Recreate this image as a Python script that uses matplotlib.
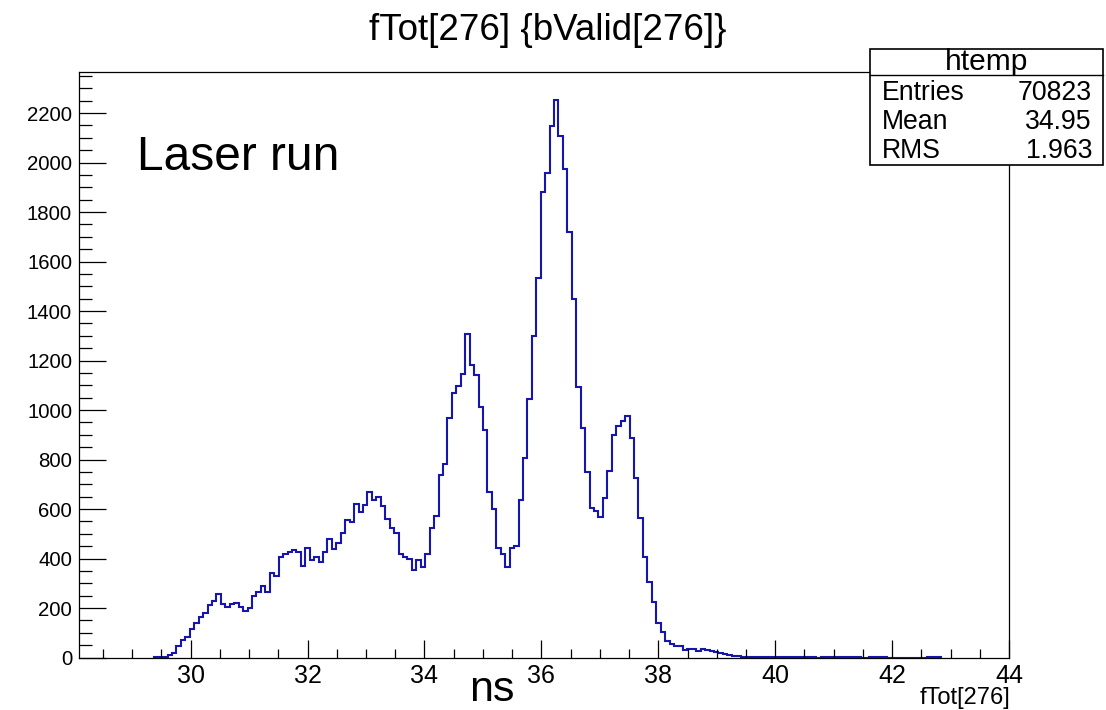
import numpy as np
import matplotlib
matplotlib.use("Agg")
import matplotlib.pyplot as plt
from matplotlib.ticker import MultipleLocator
from matplotlib.patches import Rectangle
from matplotlib.lines import Line2D

# ---------------- data ----------------
title = "fTot[276] {bValid[276]}"
xlabel = "fTot[276]"
annotation = "Laser run"
unit_label = "ns"
stat_name = "htemp"
stat_labels = ["Entries", "Mean", "RMS"]
stat_values = ["70823", "34.95", "1.963"]

bin_start = 29.377
bin_width = 0.076
counts = [
    2, 3, 4, 9, 17, 46, 71, 84, 114, 138,
    163, 181, 211, 230, 256, 216, 205, 215, 219, 205,
    188, 199, 248, 265, 289, 266, 340, 330, 405, 418,
    428, 435, 428, 371, 441, 394, 405, 387, 425, 479,
    437, 462, 505, 556, 547, 619, 587, 617, 668, 637,
    650, 613, 559, 522, 502, 417, 408, 398, 354, 394,
    367, 417, 525, 572, 738, 781, 967, 1068, 1099, 1145,
    1307, 1183, 1140, 1012, 920, 668, 599, 441, 417, 367,
    442, 450, 637, 806, 1044, 1300, 1532, 1881, 1958, 2146,
    2252, 2109, 1975, 1719, 1448, 1095, 929, 750, 606, 592,
    567, 644, 755, 900, 936, 956, 977, 886, 725, 563,
    405, 307, 224, 141, 104, 67, 55, 48, 46, 30,
    33, 33, 28, 33, 30, 27, 22, 17, 14, 9,
    8, 7, 3, 3, 2, 2, 2, 2, 1, 2,
    1, 1, 1, 1, 1, 1, 1, 1, 1, 0,
    1, 1, 1, 1, 1, 1, 1, 1, 1, 0,
    0, 1, 1, 1, 1, 0, 0, 0, 0, 0,
    0, 0, 0, 0, 1, 1, 1,
]

x_range = (28.09, 44.0)
y_range = (0, 2366)
x_major, x_minor = 2, 0.5
y_major, y_minor = 200, 50

# ---------------- figure ----------------
W, H = 1106, 710
plt.rcParams["font.family"] = ["Liberation Sans", "DejaVu Sans"]

fig = plt.figure(figsize=(W / 100, H / 100), dpi=100)


def fx(px):
    return px / W


def fy(py):
    return 1 - py / H


left, right, top, bottom = 79, 1009, 72, 657.5
ax = fig.add_axes([fx(left), fy(bottom), fx(right - left), (bottom - top) / H])

edges = bin_start + bin_width * np.arange(len(counts) + 1)
ax.stairs(counts, edges, color="#1616ae", linewidth=1.5, baseline=0)

ax.set_xlim(*x_range)
ax.set_ylim(*y_range)
ax.xaxis.set_major_locator(MultipleLocator(x_major))
ax.xaxis.set_minor_locator(MultipleLocator(x_minor))
ax.yaxis.set_major_locator(MultipleLocator(y_major))
ax.yaxis.set_minor_locator(MultipleLocator(y_minor))

ax.tick_params(axis="x", which="major", direction="in", length=13, width=0.9,
               labelsize=18, pad=5)
ax.tick_params(axis="x", which="minor", direction="in", length=6.8, width=0.9)
ax.tick_params(axis="y", which="major", direction="in", length=19.5, width=0.9,
               labelsize=14.7, pad=5)
ax.tick_params(axis="y", which="minor", direction="in", length=9.7, width=0.9)
for s in ax.spines.values():
    s.set_linewidth(0.9)

# title
fig.text(fx(548), fy(30), title, ha="center", va="center", fontsize=26.5)
# x-axis label at right
fig.text(fx(1010), fy(698), xlabel, ha="right", va="center", fontsize=17)
# annotations
fig.text(fx(137), fy(157), annotation, ha="left", va="center", fontsize=34.5)
fig.text(fx(492), fy(690), unit_label, ha="center", va="center", fontsize=31)

# stats box
bx0, bx1, by0, by1 = 870, 1103, 49, 165
fig.patches.append(Rectangle((fx(bx0), fy(by1)), fx(bx1 - bx0), (by1 - by0) / H,
                             transform=fig.transFigure, facecolor="white",
                             edgecolor="black", linewidth=1.2, zorder=5))
fig.lines.append(Line2D([fx(bx0), fx(bx1)], [fy(75), fy(75)],
                        transform=fig.transFigure, color="black",
                        linewidth=1.0, zorder=6))
fig.text(fx(987), fy(62.5), stat_name, ha="center", va="center", fontsize=21.5, zorder=7)
for i, (lab, val) in enumerate(zip(stat_labels, stat_values)):
    yy = 93 + i * 29
    fig.text(fx(882), fy(yy), lab, ha="left", va="center", fontsize=19.2, zorder=7)
    fig.text(fx(1092), fy(yy), val, ha="right", va="center", fontsize=19.2, zorder=7)

fig.savefig("out.png", dpi=100, facecolor="white")
